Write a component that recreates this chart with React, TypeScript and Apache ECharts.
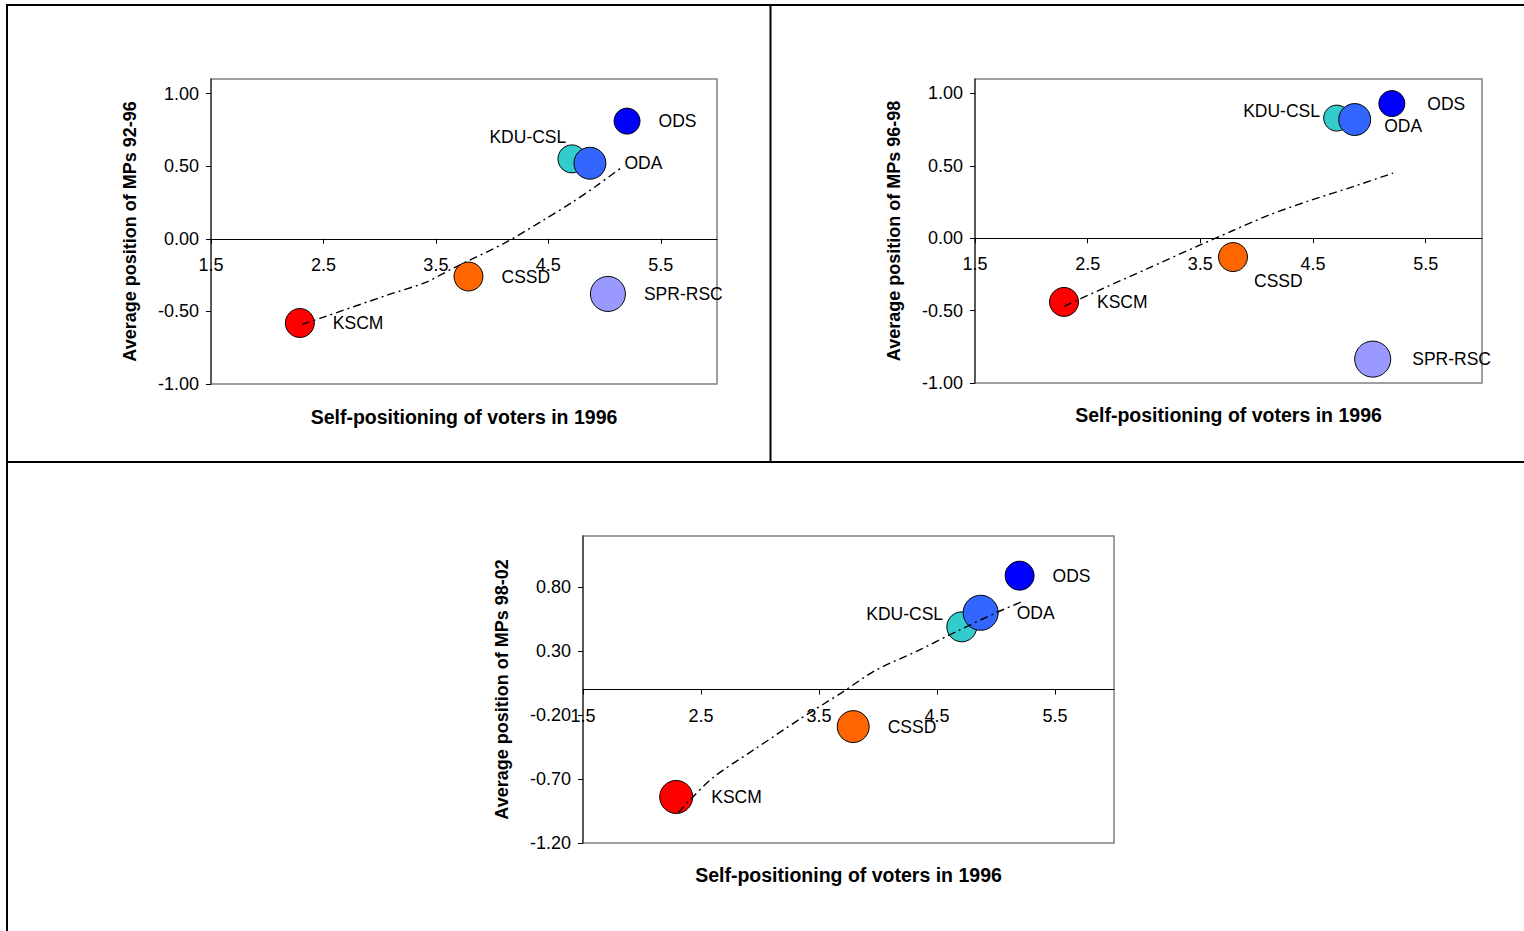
import React, { useEffect, useRef } from "react";
import * as echarts from "echarts";

// ---- data ----
const parties = ["KSCM", "CSSD", "KDU-CSL", "ODA", "ODS", "SPR-RSC"];
const partyColors = ["#FF0000", "#FF6600", "#33CCCC", "#3366FF", "#0000FF", "#9999FF"];
const voterPosition1996 = [2.29, 3.79, 4.71, 4.87, 5.2, 5.03];

const mps9296 = [-0.58, -0.26, 0.55, 0.52, 0.81, -0.38];
const mps9698 = [-0.44, -0.13, 0.83, 0.82, 0.93, -0.835];
const mps9802 = [-0.84, -0.29, 0.49, 0.6, 0.89, null];

// bubble diameters (px)
const bubble9296 = [29, 29, 28, 32, 26, 35];
const bubble9698 = [29, 29, 26, 32, 26, 36];
const bubble9802 = [33, 32, 30, 35, 29, null];

// trend lines (dash-dot)
const trend9296X = [2.31, 2.5, 3.06, 3.41, 3.66, 4.11, 4.46, 4.71, 4.92, 5.15];
const trend9296Y = [-0.59, -0.54, -0.39, -0.3, -0.2, -0.03, 0.13, 0.25, 0.36, 0.49];
const trend9698X = [2.29, 2.6, 3.03, 3.46, 3.78, 4.11, 4.47, 4.87, 5.21];
const trend9698Y = [-0.47, -0.36, -0.21, -0.06, 0.05, 0.16, 0.26, 0.36, 0.45];
const trend9802X = [2.31, 2.39, 2.6, 2.95, 3.34, 3.7, 3.98, 4.33, 4.68, 5.0, 5.23];
const trend9802Y = [-0.96, -0.88, -0.69, -0.47, -0.23, -0.02, 0.15, 0.3, 0.46, 0.6, 0.69];

const xTicks = [1.5, 2.5, 3.5, 4.5, 5.5];
const yTicksA = [-1, -0.5, 0, 0.5, 1];
const yTicksC = [-1.2, -0.7, -0.2, 0.3, 0.8];

const xTitle = "Self-positioning of voters in 1996";
const yTitles = [
  "Average position of MPs 92-96",
  "Average position of MPs 96-98",
  "Average position of MPs 98-02",
];

const FONT = 'Arial, "Liberation Sans", sans-serif';

export default function App() {
  const ref = useRef<HTMLDivElement>(null);

  useEffect(() => {
    if (!ref.current) return;
    const chart = echarts.init(ref.current, undefined, { renderer: "svg" });

    const grids = [
      { left: 211, top: 79, width: 506, height: 305 },
      { left: 975, top: 79, width: 507, height: 304 },
      { left: 583, top: 536, width: 531, height: 307 },
    ];
    const yRanges = [
      { min: -1, max: 1.1, ticks: yTicksA },
      { min: -1, max: 1.1, ticks: yTicksA },
      { min: -1.2, max: 1.2, ticks: yTicksC },
    ];
    const xNameGaps = [168, 167, 175];

    const labelOffsets: number[][][] = [
      [[0, 0], [0, 0], [-115, -22], [0, 0], [0, 0], [0, 0]],
      [[0, 0], [-12, 24], [-125, -7], [-5, 6], [4, 0], [3, 0]],
      [[0, 0], [0, 0], [-129, -13], [0, 0], [0, 0], [0, 0]],
    ];
    const yVals = [mps9296, mps9698, mps9802];
    const sizes = [bubble9296, bubble9698, bubble9802];
    const trends = [
      [trend9296X, trend9296Y],
      [trend9698X, trend9698Y],
      [trend9802X, trend9802Y],
    ];

    const xAxis = grids.map((g, k) => {
      const r = yRanges[k];
      // move the horizontal axis up so that it crosses the vertical axis at 0
      const zeroOffset = -(g.height * (0 - r.min)) / (r.max - r.min);
      return {
        gridIndex: k,
        type: "value",
        min: 1.5,
        max: 6,
        position: "bottom",
        offset: zeroOffset,
        axisLine: { show: true, onZero: false, lineStyle: { color: "#000", width: 1 } },
        axisTick: { show: true, length: 5, customValues: xTicks, lineStyle: { color: "#000" } },
        axisLabel: {
          customValues: xTicks,
          margin: 17,
          fontSize: 18,
          color: "#000",
          fontFamily: FONT,
          formatter: (v: number) => v.toFixed(1),
        },
        splitLine: { show: false },
        name: xTitle,
        nameLocation: "middle",
        nameGap: xNameGaps[k],
        nameTextStyle: { fontWeight: "bold", fontSize: 19.5, color: "#000", fontFamily: FONT },
      };
    });

    const yAxis = grids.map((_, k) => ({
      gridIndex: k,
      type: "value",
      min: yRanges[k].min,
      max: yRanges[k].max,
      axisLine: { show: true, onZero: false, lineStyle: { color: "#404040", width: 1.5 } },
      axisTick: { show: true, length: 5, customValues: yRanges[k].ticks, lineStyle: { color: "#000" } },
      axisLabel: {
        customValues: yRanges[k].ticks,
        margin: 12,
        fontSize: 18,
        color: "#000",
        fontFamily: FONT,
        formatter: (v: number) => v.toFixed(2),
      },
      splitLine: { show: false },
      name: yTitles[k],
      nameLocation: "middle",
      nameGap: 72,
      nameTextStyle: { fontWeight: "bold", fontSize: 18, color: "#000", fontFamily: FONT },
    }));

    const series: any[] = [];
    for (let k = 0; k < 3; k++) {
      const data: any[] = [];
      parties.forEach((p, i) => {
        const y = yVals[k][i];
        if (y === null || y === undefined) return;
        data.push({
          name: p,
          value: [voterPosition1996[i], y],
          symbolSize: sizes[k][i],
          itemStyle: { color: partyColors[i] },
          label: { offset: labelOffsets[k][i] },
        });
      });
      series.push({
        type: "scatter",
        xAxisIndex: k,
        yAxisIndex: k,
        data,
        itemStyle: { borderColor: "#000", borderWidth: 1, opacity: 1 },
        label: {
          show: true,
          position: "right",
          distance: 18,
          formatter: "{b}",
          color: "#000",
          fontSize: 17.5,
          fontFamily: FONT,
        },
        emphasis: { disabled: true },
        z: 2,
      });
      const [tx, ty] = trends[k];
      series.push({
        type: "line",
        xAxisIndex: k,
        yAxisIndex: k,
        data: tx.map((x, i) => [x, ty[i]]),
        smooth: 0.3,
        symbol: "none",
        lineStyle: { color: "#000", width: 1.4, type: [8, 4, 2, 4] },
        silent: true,
        z: 3,
      });
    }

    const line = (x1: number, y1: number, x2: number, y2: number) => ({
      type: "line",
      shape: { x1, y1, x2, y2 },
      style: { stroke: "#000", lineWidth: 2 },
      silent: true,
    });

    chart.setOption({
      animation: false,
      backgroundColor: "#fff",
      textStyle: { fontFamily: FONT },
      grid: grids.map((g) => ({
        ...g,
        show: true,
        borderColor: "#808080",
        borderWidth: 1.5,
        backgroundColor: "transparent",
        containLabel: false,
        outerBoundsMode: "none",
      })),
      xAxis,
      yAxis,
      series,
      graphic: [
        line(6, 5, 1524, 5),
        line(7, 5, 7, 931),
        line(770.5, 5, 770.5, 462),
        line(7, 462, 1524, 462),
      ],
    });

    return () => chart.dispose();
  }, []);

  return (
    <div
      ref={ref}
      style={{ position: "absolute", left: 0, top: 0, width: 1524, height: 931 }}
    />
  );
}
